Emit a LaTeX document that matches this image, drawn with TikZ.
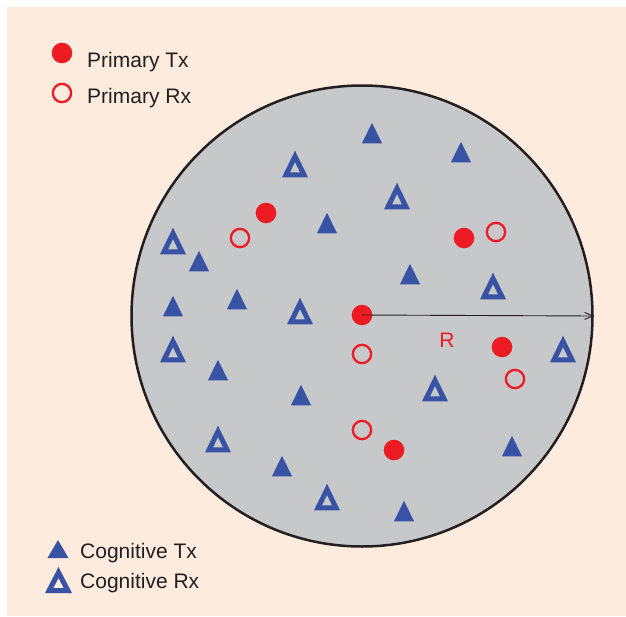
\documentclass[tikz,border=0pt]{standalone}
\usepackage{fontspec}
\setmainfont{Liberation Sans}
\usetikzlibrary{arrows.meta}
\definecolor{peach}{HTML}{FDEBDD}
\definecolor{disk}{HTML}{C7C8CA}
\definecolor{pred}{HTML}{ED1C24}
\definecolor{cblue}{HTML}{3853A4}
\definecolor{ink}{HTML}{231F20}
\tikzset{
  ptx/.style={circle,fill=pred,inner sep=0pt,minimum size=20.6pt},
  prx/.style={circle,draw=pred,line width=2.3pt,inner sep=0pt,minimum size=18.3pt},
  ctx/.pic={\fill[cblue] (-10,10.25) -- (10,10.25) -- (0,-10.25) -- cycle;},
  crx/.pic={\fill[cblue,even odd rule] (-13,13.3) -- (13,13.3) -- (0,-13.3) -- cycle
             (-5,8.3) -- (5,8.3) -- (0,-1.9) -- cycle;},
  lctx/.pic={\fill[cblue] (-10.5,9) -- (10.5,9) -- (0,-9) -- cycle;},
  lcrx/.pic={\fill[cblue,even odd rule] (-13.5,13) -- (13.5,13) -- (0,-13) -- cycle
             (-5.2,8) -- (5.2,8) -- (0,-2) -- cycle;},
  lbl/.style={font=\fontsize{21}{25}\selectfont,text=ink,inner sep=0pt,anchor=base west},
}
\begin{document}
\begin{tikzpicture}[x=1pt,y=-1pt]
\useasboundingbox (0,0) rectangle (626,616);
\fill[white] (0,0) rectangle (626,616);
\fill[peach] (7,7) rectangle (626,616);
% area
\node[circle,draw=ink,line width=2.5pt,fill=disk,inner sep=0pt,minimum size=461pt] (area) at (362,316) {};
% cognitive Tx
\foreach \x/\y in {372/133,461/152,327/223,199/261,410/274,173/306,237/299,218/370,301/395,282/466,404/511,512/446}
  \pic at (\x,\y) {ctx};
% cognitive Rx
\foreach \x/\y in {295/164,397/196,173/241,493/286,300/311,173/349,563/349,435/388,218/439,327/497}
  \pic at (\x,\y) {crx};
% primary Tx
\node[ptx] (p1) at (266,213) {};
\node[ptx] (p2) at (464,238) {};
\node[ptx] (p0) at (362,315) {};
\node[ptx] (p3) at (502,347) {};
\node[ptx] (p4) at (394,450) {};
% primary Rx
\node[prx] (r1) at (240,238) {};
\node[prx] (r2) at (496,232) {};
\node[prx] (r3) at (362,354) {};
\node[prx] (r4) at (515,379) {};
\node[prx] (r5) at (362,430) {};
% radius
\draw[ink,line width=0.9pt,-{Straight Barb[length=8pt,width=7pt]}] (p0.center) -- (area.east);
\node[font=\fontsize{21}{25}\selectfont,text=pred,inner sep=0pt] (rlab) at (447,340) {R};
% legend
\node[ptx] (lp1) at (62,53) {};
\node[lbl] (lt1) at (87,67) {Primary Tx};
\node[prx] (lp2) at (62,93) {};
\node[lbl] (lt2) at (87,103) {Primary Rx};
\pic at (58,549) {lctx};
\node[lbl] (lt3) at (80,558) {Cognitive Tx};
\pic at (58.5,580) {lcrx};
\node[lbl] (lt4) at (80,588) {Cognitive Rx};
\end{tikzpicture}
\end{document}
